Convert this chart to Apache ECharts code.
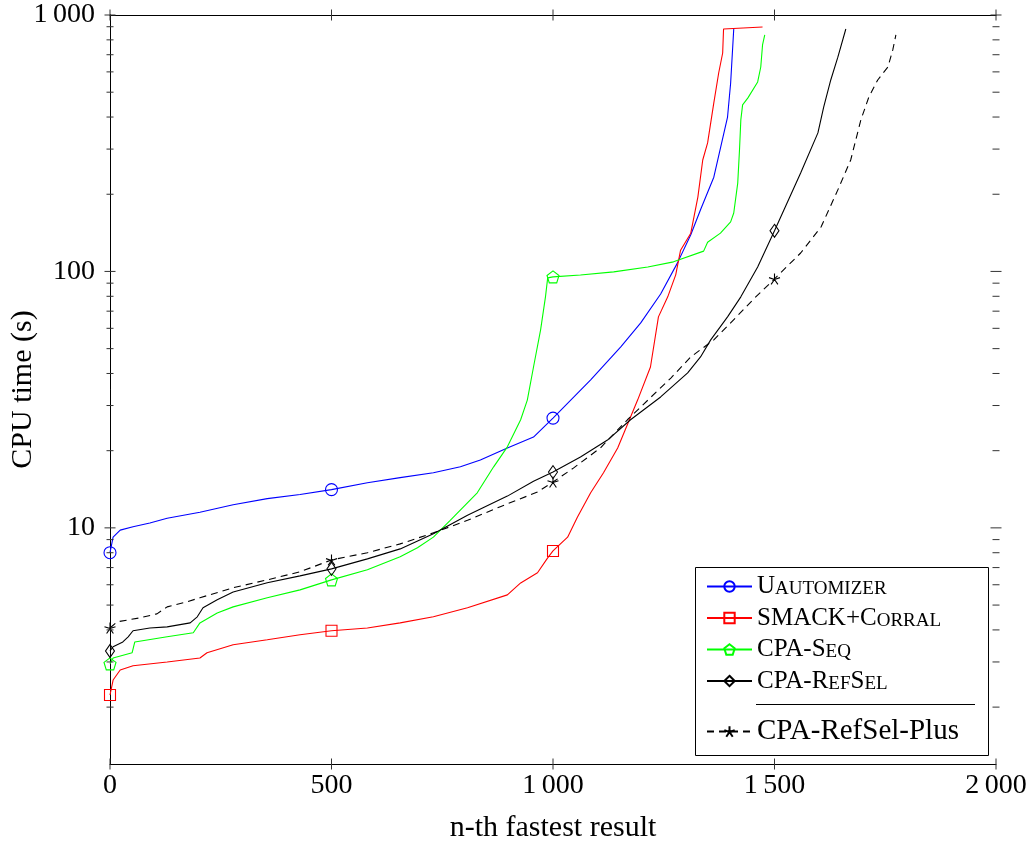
<!DOCTYPE html>
<html><head><meta charset="utf-8">
<script src="https://cdn.jsdelivr.net/npm/echarts@6/dist/echarts.min.js"></script>
<style>html,body{margin:0;padding:0;background:#fff}#c{width:1029px;height:843px}</style>
</head><body><div id="c"></div>
<script>
// ---- data ----
const uautoN = [0,7,23,52,90,129,203,278,355,429,500,581,655,730,791,836,897,956,1000,1085,1153,1198,1243,1281,1311,1333,1363,1394,1401,1408];
const uautoT = [8.0,9.2,9.8,10.1,10.45,10.9,11.5,12.3,13.0,13.5,14.1,15.0,15.7,16.4,17.3,18.4,20.5,22.6,26.8,37.8,50.8,63,81.7,108,139,174,233,400,543,882];

const smackN = [0,7,23,52,129,203,219,278,355,429,500,581,655,730,807,897,927,965,988,1000,1033,1055,1085,1114,1146,1191,1220,1238,1259,1277,1288,1311,1327,1338,1349,1363,1374,1383,1385,1473];
const smackT = [2.23,2.55,2.79,2.90,3.0,3.11,3.26,3.50,3.66,3.83,3.97,4.07,4.26,4.50,4.88,5.48,6.1,6.68,7.64,8.13,9.2,11.0,13.7,16.4,20.5,31.5,42.4,66.5,79.6,97,121,141,195,272,317,454,594,711,882,898];

const seqN = [0,7,50,56,129,188,203,242,278,355,429,500,581,655,694,730,768,829,866,897,927,942,956,972,983,988,1000,1062,1137,1214,1272,1340,1349,1378,1401,1408,1417,1421,1424,1428,1440,1462,1469,1473,1478];
const seqT = [2.95,3.11,3.26,3.59,3.76,3.90,4.26,4.66,4.92,5.34,5.73,6.27,6.86,7.71,8.36,9.2,10.7,13.7,17.3,20.7,26.4,31.5,42.4,59.2,79.6,94.4,95.2,96.9,99.6,104,109,120,130,141,156,169,221,298,390,446,475,548,627,764,836];

const refselN = [0,7,29,41,52,90,129,181,197,210,242,278,355,429,500,581,655,730,807,897,956,1000,1062,1123,1175,1243,1304,1333,1356,1394,1424,1462,1500,1559,1598,1611,1627,1643,1661];
const refselT = [3.31,3.44,3.59,3.76,3.97,4.07,4.11,4.26,4.50,4.88,5.24,5.62,6.11,6.50,6.92,7.57,8.28,9.48,11.2,13.3,15.2,16.5,18.9,22.0,26.4,32.4,40.2,46.4,54.1,66.5,79.6,104,144,242,347,437,558,685,882];

const plusN = [0,16,68,106,129,174,203,278,355,429,500,581,655,730,807,881,965,1000,1046,1107,1168,1266,1311,1363,1412,1453,1500,1559,1605,1643,1672,1695,1713,1733,1756,1767,1774];
const plusT = [4.07,4.30,4.46,4.62,4.92,5.15,5.34,5.84,6.27,6.74,7.50,8.0,8.66,9.56,10.7,12.1,13.8,15.1,17.1,20.5,26.4,38.4,46.4,54.1,65.9,78.1,93.5,118,149,208,272,390,479,558,627,731,836];

const markAt = [0, 500, 1000, 1500];
const xTicks = [0, 500, 1000, 1500, 2000];
const yMajorTicks = [10, 100, 1000];
const yMinorTicks = [2,3,4,5,6,7,8,9,20,30,40,50,60,70,80,90,200,300,400,500,600,700,800,900];
const yLabels = {10: '10', 100: '100', 1000: '1\u2009000'};

// ---- chart ----
const FONT = '"Liberation Serif","Times New Roman",serif';
const PENTAGON = 'path://M0,-1L0.951,-0.309L0.588,0.809L-0.588,0.809L-0.951,-0.309Z';
const STAR = 'path://M0,0L0,-1M0,0L0.951,-0.309M0,0L0.588,0.809M0,0L-0.588,0.809M0,0L-0.951,-0.309';

const defs = [
  {name: 'UAutomizer', n: uautoN, t: uautoT, color: '#0000ff', symbol: 'circle', size: 12, dash: 'solid'},
  {name: 'SMACK+Corral', n: smackN, t: smackT, color: '#ff0000', symbol: 'rect', size: 11, dash: 'solid'},
  {name: 'CPA-Seq', n: seqN, t: seqT, color: '#00ff00', symbol: PENTAGON, size: 12, dash: 'solid'},
  {name: 'CPA-RefSel', n: refselN, t: refselT, color: '#000000', symbol: 'diamond', size: [9, 13], dash: 'solid'},
  {name: 'CPA-RefSel-Plus', n: plusN, t: plusT, color: '#000000', symbol: STAR, size: 11, dash: [7, 5]}
];

function buildData(ns, ts) {
  return ns.map((n, i) => markAt.includes(n) ? {value: [n, ts[i]]} : {value: [n, ts[i]], symbol: 'none'});
}

const series = defs.map((d, k) => ({
  type: 'line', name: d.name, data: buildData(d.n, d.t),
  symbol: d.symbol, symbolSize: d.size, showSymbol: true, showAllSymbol: true,
  lineStyle: {color: d.color, width: 1.1, type: d.dash},
  itemStyle: {color: 'rgba(255,255,255,0)', borderColor: d.color, borderWidth: 1.1},
  emphasis: {disabled: true}, z: 2 + k * 0.01, animation: false
}));

series.push({
  type: 'custom', silent: true, z: 3, animation: false,
  data: yMinorTicks.map(v => [0, v, 3.5]).concat(yMajorTicks.map(v => [0, v, 5.5])),
  encode: {x: 0, y: 1},
  renderItem: (params, api) => {
    const cs = params.coordSys;
    const y = api.coord([0, api.value(1)])[1];
    const h = api.value(2);
    const st = {stroke: '#333', lineWidth: 1};
    return {type: 'group', children: [
      {type: 'line', shape: {x1: cs.x - h, y1: y, x2: cs.x + h, y2: y}, style: st},
      {type: 'line', shape: {x1: cs.x + cs.width - h, y1: y, x2: cs.x + cs.width + h, y2: y}, style: st}
    ]};
  }
});
series.push({
  type: 'custom', silent: true, z: 3, animation: false,
  data: xTicks.map(n => [n, 10, 5.5]),
  encode: {x: 0, y: 1},
  renderItem: (params, api) => {
    const cs = params.coordSys;
    const x = api.coord([api.value(0), 10])[0];
    const h = api.value(2);
    const st = {stroke: '#333', lineWidth: 1};
    return {type: 'group', children: [
      {type: 'line', shape: {x1: x, y1: cs.y + cs.height - h, x2: x, y2: cs.y + cs.height + h}, style: st},
      {type: 'line', shape: {x1: x, y1: cs.y - h, x2: x, y2: cs.y + h}, style: st}
    ]};
  }
});

const legendText = {
  'UAutomizer': '{n|U}{s|AUTOMIZER}',
  'SMACK+Corral': '{n|SMACK+C}{s|ORRAL}',
  'CPA-Seq': '{n|CPA-S}{s|EQ}',
  'CPA-RefSel': '{n|CPA-R}{s|EF}{n|S}{s|EL}'
};

const axisLine = {show: true, lineStyle: {color: '#000', width: 1}};
const option = {
  animation: false,
  backgroundColor: '#fff',
  grid: {left: 110, right: 33, top: 15, bottom: 79, containLabel: false, outerBoundsMode: 'none'},
  xAxis: [
    {type: 'value', min: 0, max: 2000, interval: 500, position: 'bottom',
     axisLine, axisTick: {show: false}, splitLine: {show: false},
     axisLabel: {fontFamily: FONT, fontSize: 28, color: '#000', margin: 8,
       formatter: v => v >= 1000 ? String(v).replace(/(\d)(\d{3})$/, '$1\u2009$2') : String(v)},
     name: 'n-th fastest result', nameLocation: 'middle', nameGap: 49,
     nameTextStyle: {fontFamily: FONT, fontSize: 30, color: '#000'}},
    {type: 'value', min: 0, max: 2000, interval: 500, position: 'top',
     axisLine, axisTick: {show: false}, axisLabel: {show: false}, splitLine: {show: false}}
  ],
  yAxis: [
    {type: 'log', logBase: 10, min: 1.2, max: 1000, position: 'left',
     axisLine, axisTick: {show: false}, splitLine: {show: false}, minorTick: {show: false},
     axisLabel: {fontFamily: FONT, fontSize: 28, color: '#000', margin: 15,
       showMinLabel: true, showMaxLabel: true,
       formatter: v => yLabels[Math.round(v)] || ''},
     name: 'CPU time (s)', nameLocation: 'middle', nameGap: 72, nameRotate: 90,
     nameMoveOverlap: false,
     nameTextStyle: {fontFamily: FONT, fontSize: 30, color: '#000'}},
    {type: 'log', logBase: 10, min: 1.2, max: 1000, position: 'right',
     axisLine, axisTick: {show: false}, axisLabel: {show: false}, splitLine: {show: false}}
  ],
  legend: [
    {data: ['UAutomizer', 'SMACK+Corral', 'CPA-Seq', 'CPA-RefSel'],
     orient: 'vertical', left: 706, top: 574, padding: 0, itemGap: 6.5,
     itemWidth: 45, itemHeight: 13, selectedMode: false, z: 10,
     formatter: name => legendText[name],
     textStyle: {fontFamily: FONT, color: '#000', rich: {
       n: {fontFamily: FONT, fontSize: 25, color: '#000', verticalAlign: 'bottom'},
       s: {fontFamily: FONT, fontSize: 19, color: '#000', verticalAlign: 'bottom'}
     }}},
    {data: ['CPA-RefSel-Plus'], orient: 'vertical', left: 706, top: 717, padding: 0,
     itemWidth: 45, itemHeight: 13, selectedMode: false, z: 10,
     textStyle: {fontFamily: FONT, fontSize: 29, color: '#000'}}
  ],
  graphic: [
    {type: 'rect', z: 5, shape: {x: 695.5, y: 567.5, width: 293, height: 188},
     style: {fill: '#fff', stroke: '#000', lineWidth: 1}},
    {type: 'line', z: 6, shape: {x1: 756, y1: 704.5, x2: 975, y2: 704.5},
     style: {stroke: '#000', lineWidth: 1}}
  ],
  series
};
const chart = echarts.init(document.getElementById('c'), null, {renderer: 'canvas'});
chart.setOption(option);
</script>
</body></html>
